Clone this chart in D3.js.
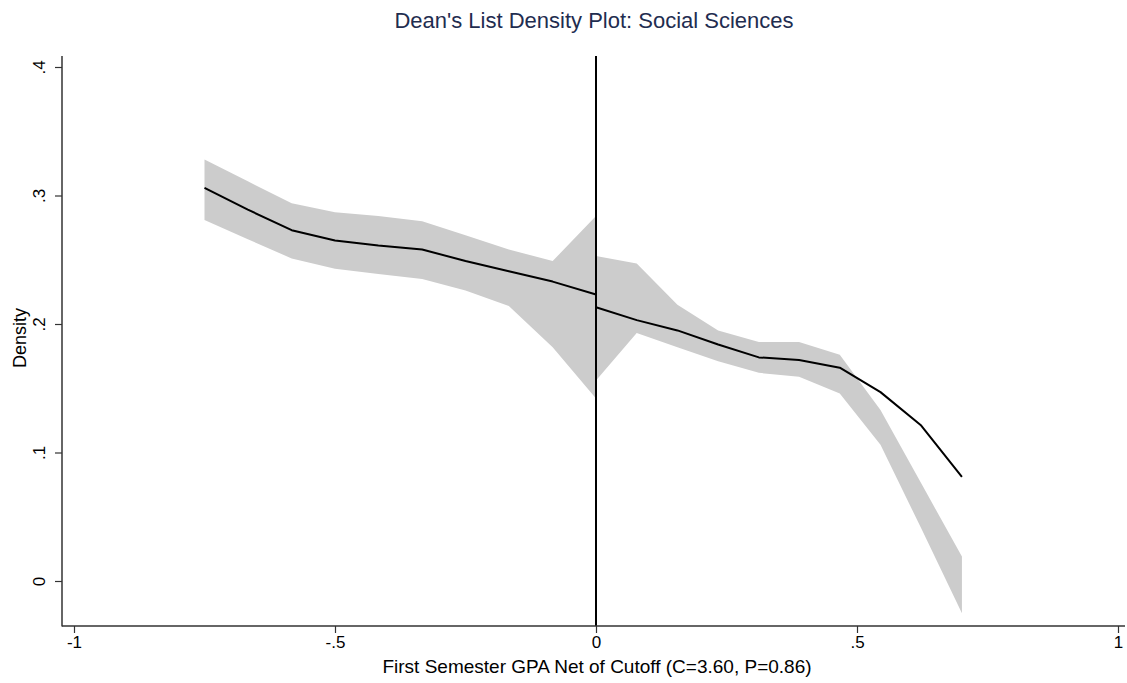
<!DOCTYPE html>
<html>
<head>
<meta charset="utf-8">
<script src="https://cdn.jsdelivr.net/npm/d3@7"></script>
<style>
  html, body { margin: 0; padding: 0; background: #fff; }
  svg { display: block; font-family: "Liberation Sans", Arial, sans-serif; }
</style>
</head>
<body>
<svg id="chart" width="1127" height="683"></svg>
<script>
// Bin midpoints and local-linear density fits on each side of the cutoff
const leftX   = [-0.750, -0.667, -0.583, -0.500, -0.417, -0.333, -0.250, -0.167, -0.083, 0.000];
const leftFit = [0.306, 0.289, 0.273, 0.265, 0.261, 0.258, 0.249, 0.241, 0.233, 0.223];
const leftHi  = [0.328, 0.311, 0.294, 0.287, 0.284, 0.280, 0.269, 0.258, 0.249, 0.284];
const leftLo  = [0.281, 0.266, 0.251, 0.243, 0.239, 0.235, 0.226, 0.214, 0.182, 0.142];

const rightX   = [0.000, 0.078, 0.156, 0.234, 0.312, 0.389, 0.467, 0.545, 0.623, 0.701];
const rightFit = [0.213, 0.203, 0.195, 0.184, 0.174, 0.172, 0.166, 0.147, 0.121, 0.081];
const rightHi  = [0.253, 0.247, 0.215, 0.195, 0.186, 0.186, 0.176, 0.133, 0.076, 0.019];
const rightLo  = [0.156, 0.193, 0.182, 0.171, 0.162, 0.159, 0.146, 0.106, 0.041, -0.025];

const xTicks = [-1, -0.5, 0, 0.5, 1];
const xTickLabels = ["-1", "-.5", "0", ".5", "1"];
const yTicks = [0, 0.1, 0.2, 0.3, 0.4];
const yTickLabels = ["0", ".1", ".2", ".3", ".4"];

const titleText = "Dean's List Density Plot: Social Sciences";
const xTitle = "First Semester GPA Net of Cutoff (C=3.60, P=0.86)";
const yTitle = "Density";
const cutoff = 0;

const svg = d3.select("#chart");

const frame = { left: 62, right: 1125, top: 56, bottom: 626 };

const x = d3.scaleLinear().domain([-1, 1]).range([74, 1118]);
const y = d3.scaleLinear().domain([0, 0.4]).range([581, 67]);

function side(xs, fit, hi, lo) {
  return xs.map((v, i) => ({ x: v, fit: fit[i], hi: hi[i], lo: lo[i] }));
}
const sides = [
  side(leftX, leftFit, leftHi, leftLo),
  side(rightX, rightFit, rightHi, rightLo)
];

const band = d3.area()
  .x(d => x(d.x))
  .y0(d => y(d.lo))
  .y1(d => y(d.hi));

const fitLine = d3.line()
  .x(d => x(d.x))
  .y(d => y(d.fit));

// Confidence bands
svg.append("g").selectAll("path.band")
  .data(sides)
  .join("path")
  .attr("class", "band")
  .attr("d", band)
  .attr("fill", "#cccccc")
  .attr("stroke", "none");

// Cutoff reference line
svg.append("line")
  .attr("x1", x(cutoff)).attr("x2", x(cutoff))
  .attr("y1", frame.top).attr("y2", frame.bottom)
  .attr("stroke", "#000").attr("stroke-width", 2);

// Fitted density lines
svg.append("g").selectAll("path.fit")
  .data(sides)
  .join("path")
  .attr("class", "fit")
  .attr("d", fitLine)
  .attr("fill", "none")
  .attr("stroke", "#000")
  .attr("stroke-width", 2)
  .attr("stroke-linejoin", "round");

// Axes
const axisColor = "#333";
const xAxis = d3.axisBottom(x)
  .tickValues(xTicks)
  .tickFormat((d, i) => xTickLabels[i])
  .tickSize(7)
  .tickPadding(3);
const gx = svg.append("g")
  .attr("transform", `translate(0,${frame.bottom})`)
  .call(xAxis);
gx.select(".domain").remove();
gx.selectAll(".tick line").attr("stroke", axisColor).attr("stroke-width", 1.2);
gx.selectAll(".tick text")
  .attr("fill", "#000")
  .attr("font-size", 17)
  .attr("font-family", "Liberation Sans, Arial, sans-serif");

const yAxis = d3.axisLeft(y)
  .tickValues(yTicks)
  .tickFormat((d, i) => yTickLabels[i])
  .tickSize(7);
const gy = svg.append("g")
  .attr("transform", `translate(${frame.left},0)`)
  .call(yAxis);
gy.select(".domain").remove();
gy.selectAll(".tick line").attr("stroke", axisColor).attr("stroke-width", 1.2);
gy.selectAll(".tick text")
  .attr("fill", "#000")
  .attr("font-size", 17)
  .attr("font-family", "Liberation Sans, Arial, sans-serif")
  .attr("x", null).attr("dy", null)
  .attr("text-anchor", "middle")
  .attr("transform", "translate(-17,0) rotate(-90)");

// Axis lines
svg.append("line")
  .attr("x1", frame.left).attr("x2", frame.left)
  .attr("y1", frame.top).attr("y2", frame.bottom + 0.5)
  .attr("stroke", axisColor).attr("stroke-width", 1.5);
svg.append("line")
  .attr("x1", frame.left).attr("x2", frame.right)
  .attr("y1", frame.bottom).attr("y2", frame.bottom)
  .attr("stroke", axisColor).attr("stroke-width", 1.5);

// Titles
svg.append("text")
  .attr("x", 594).attr("y", 28)
  .attr("text-anchor", "middle")
  .attr("font-size", 22)
  .attr("fill", "#1f2d50")
  .text(titleText);

svg.append("text")
  .attr("x", 597).attr("y", 673)
  .attr("text-anchor", "middle")
  .attr("font-size", 19)
  .attr("fill", "#000")
  .text(xTitle);

svg.append("text")
  .attr("transform", "translate(26,338) rotate(-90)")
  .attr("text-anchor", "middle")
  .attr("font-size", 18)
  .attr("fill", "#000")
  .text(yTitle);
</script>
</body>
</html>
